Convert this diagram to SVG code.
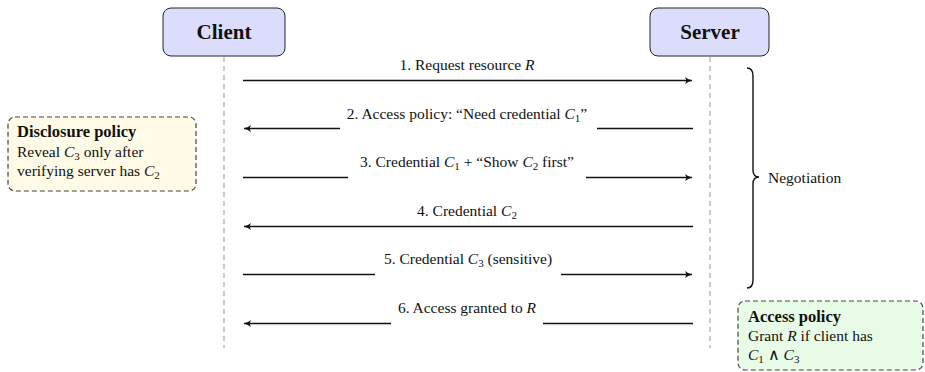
<svg xmlns="http://www.w3.org/2000/svg" width="925" height="372" viewBox="0 0 925 372">
<style>
text{font-family:"Liberation Serif","Times New Roman",serif;fill:#111}
.lbl{font-size:15.5px;text-anchor:middle}
.it{font-style:italic}
.sub{font-size:11px}
.actor{fill:#dcdcfc;stroke:#222;stroke-width:1}
.actor-t{font-size:21px;font-weight:bold;text-anchor:middle}
.life{stroke:#aaa;stroke-width:1.2;stroke-dasharray:5,4}
.msg{stroke:#111;stroke-width:1.3;fill:none}
.gap{fill:#fff}
.note-t{font-size:15.5px}
.note-h{font-size:16.5px;font-weight:bold}
</style>
<defs>
<marker id="ah" markerUnits="userSpaceOnUse" markerWidth="10" markerHeight="10" refX="7" refY="4" orient="auto">
<path d="M0,0.5 Q3,3 7,4 Q3,5 0,7.5 L1.5,4 Z" fill="#111"/>
</marker>
</defs>
<g id="lifelines">
<line class="life" x1="224" y1="57" x2="224" y2="348"/>
<line class="life" x1="710" y1="57" x2="710" y2="348"/>
</g>
<g id="client">
<rect class="actor" x="163" y="8" width="122" height="48" rx="8"/>
<text class="actor-t" x="224" y="39">Client</text>
</g>
<g id="server">
<rect class="actor" x="650" y="8" width="119" height="48" rx="8"/>
<text class="actor-t" x="710" y="39">Server</text>
</g>
<g id="connectors">
<line class="msg" x1="243" y1="80.5" x2="692" y2="80.5" marker-end="url(#ah)"/>
<line class="msg" x1="693" y1="128.5" x2="244" y2="128.5" marker-end="url(#ah)"/>
<line class="msg" x1="243" y1="177.5" x2="692" y2="177.5" marker-end="url(#ah)"/>
<line class="msg" x1="693" y1="226.5" x2="244" y2="226.5" marker-end="url(#ah)"/>
<line class="msg" x1="243" y1="274.5" x2="692" y2="274.5" marker-end="url(#ah)"/>
<line class="msg" x1="693" y1="323.5" x2="244" y2="323.5" marker-end="url(#ah)"/>
</g>
<g id="labels">
<text class="lbl" x="467" y="70">1. Request resource <tspan class="it">R</tspan></text>
<rect class="gap" x="340" y="104" width="257" height="27"/>
<text class="lbl" x="467" y="119">2. Access policy: “Need credential <tspan class="it">C</tspan><tspan class="sub" dy="3">1</tspan><tspan dy="-3">”</tspan></text>
<rect class="gap" x="348" y="153" width="238" height="27"/>
<text class="lbl" x="467" y="167">3. Credential <tspan class="it">C</tspan><tspan class="sub" dy="3">1</tspan><tspan dy="-3"> + “Show </tspan><tspan class="it">C</tspan><tspan class="sub" dy="3">2</tspan><tspan dy="-3"> first”</tspan></text>
<text class="lbl" x="467" y="216">4. Credential <tspan class="it">C</tspan><tspan class="sub" dy="3">2</tspan></text>
<rect class="gap" x="375" y="250" width="186" height="27"/>
<text class="lbl" x="468" y="264">5. Credential <tspan class="it">C</tspan><tspan class="sub" dy="3">3</tspan><tspan dy="-3"> (sensitive)</tspan></text>
<rect class="gap" x="391" y="299" width="152" height="27"/>
<text class="lbl" x="467" y="313">6. Access granted to <tspan class="it">R</tspan></text>
</g>
<g id="disclosure-policy">
<rect x="8" y="117" width="188" height="74" rx="7" fill="#fffbe6" stroke="#444" stroke-width="1.2" stroke-dasharray="5,3"/>
<text class="note-h" x="17" y="137">Disclosure policy</text>
<text class="note-t" x="17" y="157">Reveal <tspan class="it">C</tspan><tspan class="sub" dy="3">3</tspan><tspan dy="-3"> only after</tspan></text>
<text class="note-t" x="17" y="176">verifying server has <tspan class="it">C</tspan><tspan class="sub" dy="3">2</tspan></text>
</g>
<g id="negotiation">
<path d="M747,68 Q753,68 753,76 L753,170 Q753,177 759,177 Q753,177 753,184 L753,280 Q753,288 747,288" fill="none" stroke="#111" stroke-width="1.4"/>
<text class="note-t" x="768" y="183">Negotiation</text>
</g>
<g id="access-policy">
<rect x="738" y="301" width="185" height="69" rx="7" fill="#e8fbe6" stroke="#444" stroke-width="1.2" stroke-dasharray="5,3"/>
<text class="note-h" x="748" y="322">Access policy</text>
<text class="note-t" x="748" y="341">Grant <tspan class="it">R</tspan> if client has</text>
<text class="note-t" x="748" y="360"><tspan class="it">C</tspan><tspan class="sub" dy="3">1</tspan><tspan dy="-3"> ∧ </tspan><tspan class="it">C</tspan><tspan class="sub" dy="3">3</tspan></text>
</g>
</svg>
